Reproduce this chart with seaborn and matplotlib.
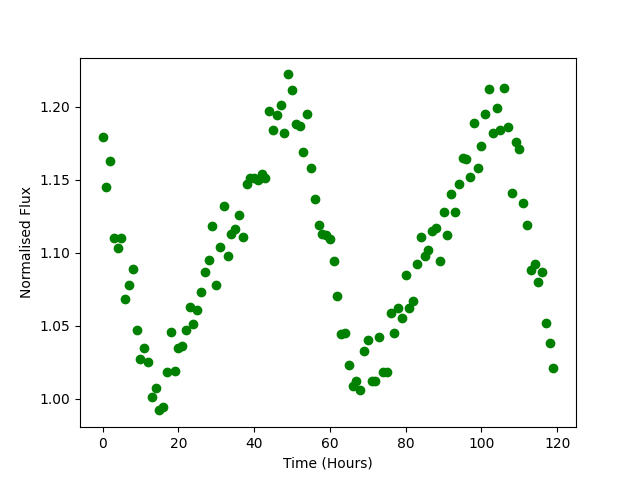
import numpy as np
import pandas as pd
import matplotlib
matplotlib.use("Agg")
import matplotlib.pyplot as plt
import seaborn as sns

# hourly samples, 0..119
hours = list(range(120))
flux = [
    1.179, 1.145, 1.163, 1.110, 1.103, 1.110, 1.068, 1.078, 1.089, 1.047,
    1.027, 1.035, 1.025, 1.001, 1.007, 0.992, 0.994, 1.018, 1.046, 1.019,
    1.035, 1.036, 1.047, 1.063, 1.051, 1.061, 1.073, 1.087, 1.095, 1.118,
    1.078, 1.104, 1.132, 1.098, 1.113, 1.116, 1.126, 1.111, 1.147, 1.151,
    1.151, 1.150, 1.154, 1.151, 1.197, 1.184, 1.194, 1.201, 1.182, 1.222,
    1.211, 1.188, 1.187, 1.169, 1.195, 1.158, 1.137, 1.119, 1.113, 1.112,
    1.109, 1.094, 1.070, 1.044, 1.045, 1.023, 1.009, 1.012, 1.006, 1.033,
    1.040, 1.012, 1.012, 1.042, 1.018, 1.018, 1.059, 1.045, 1.062, 1.055,
    1.085, 1.062, 1.067, 1.092, 1.111, 1.098, 1.102, 1.115, 1.117, 1.094,
    1.128, 1.112, 1.140, 1.128, 1.147, 1.165, 1.164, 1.152, 1.189, 1.158,
    1.173, 1.195, 1.212, 1.182, 1.199, 1.184, 1.213, 1.186, 1.141, 1.176,
    1.171, 1.134, 1.119, 1.088, 1.092, 1.080, 1.087, 1.052, 1.038, 1.021,
]

df = pd.DataFrame({"hours": hours, "flux": flux})

fig, ax = plt.subplots(figsize=(6.4, 4.8), dpi=100)
sns.scatterplot(data=df, x="hours", y="flux", color="green", s=36,
                edgecolor="green", linewidth=1, ax=ax)
ax.set_xlabel("Time (Hours)")
ax.set_ylabel("Normalised Flux")
fig.savefig("out.png", dpi=100)
